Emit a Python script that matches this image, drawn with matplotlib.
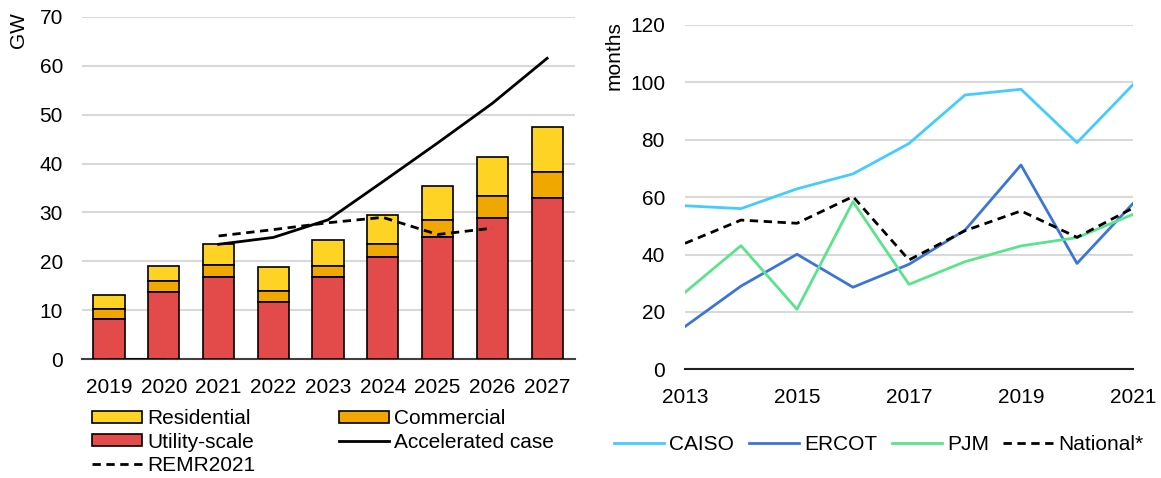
import matplotlib.pyplot as plt
import numpy as np

plt.rcParams.update({
    "font.family": ["Liberation Sans", "DejaVu Sans"],
    "font.size": 15,
    "xtick.labelsize": 15,
    "ytick.labelsize": 15,
    "legend.fontsize": 15,
})

# Left panel data (GW)
years = ['2019', '2020', '2021', '2022', '2023', '2024', '2025', '2026', '2027']
utility = [8.2, 13.8, 16.9, 11.8, 16.9, 20.9, 24.9, 28.9, 32.9]
commercial = [2.1, 2.1, 2.4, 2.1, 2.2, 2.7, 3.6, 4.5, 5.4]
residential = [2.8, 3.2, 4.2, 5.0, 5.3, 5.9, 7.0, 8.0, 9.1]
accelerated = [0, 0, 23.5, 24.9, 28.5, 36.3, 44.2, 52.3, 61.5]
remr2021 = [np.nan, np.nan, 25.2, 26.5, 27.9, 29.0, 25.5, 26.8, np.nan]

# Right panel data (months)
reg_years = [2013, 2014, 2015, 2016, 2017, 2018, 2019, 2020, 2021]
caiso = [57.0, 56.0, 62.9, 68.1, 78.7, 95.6, 97.6, 79.0, 99.2]
ercot = [14.9, 29.0, 40.1, 28.6, 36.6, 48.5, 71.2, 36.9, 57.8]
pjm = [26.8, 43.1, 20.9, 58.4, 29.6, 37.5, 43.0, 45.9, 54.0]
national = [43.9, 52.0, 50.9, 60.2, 38.1, 48.3, 55.2, 46.0, 56.2]

W, H = 1161, 478
fig = plt.figure(figsize=(W / 100, H / 100), dpi=100)
ax1 = fig.add_axes([81.7 / W, 1 - 359.3 / H, 492.8 / W, 342.6 / H])
ax2 = fig.add_axes([685 / W, 1 - 369.3 / H, 448 / W, 344.3 / H])

grid_c = '#d9d9d9'

# ---- left panel
x = np.arange(len(years))
util = np.array(utility)
comm = np.array(commercial)
res = np.array(residential)
w = 0.57
ax1.bar(x, res, w, bottom=util + comm, color='#ffd324', edgecolor='black', linewidth=1.2,
        label='Residential', zorder=3)
ax1.bar(x, comm, w, bottom=util, color='#f0a800', edgecolor='black', linewidth=1.2,
        label='Commercial', zorder=3)
ax1.bar(x, util, w, color='#e34a4a', edgecolor='black', linewidth=1.2,
        label='Utility-scale', zorder=3)
acc = np.array(accelerated)
ax1.plot(x[:2], acc[:2], color='black', linewidth=2, zorder=4)
ax1.plot(x[2:], acc[2:], color='black', linewidth=2, zorder=4, label='Accelerated case')
ax1.plot(x, remr2021, color='black', linewidth=2, linestyle=(0, (3, 2)), zorder=4,
         label='REMR2021')

ax1.set_xlim(-0.5, len(years) - 0.5)
ax1.set_ylim(0, 70)
ax1.set_yticks(range(0, 71, 10))
ax1.set_xticks(x)
ax1.set_xticklabels(years)
ax1.yaxis.grid(True, color=grid_c, linewidth=1.5, zorder=0)
ax1.set_axisbelow(True)
for s in ['top', 'right', 'left']:
    ax1.spines[s].set_visible(False)
ax1.spines['bottom'].set_color('#404040')
ax1.spines['bottom'].set_linewidth(1.5)
ax1.tick_params(axis='x', length=0, pad=13.5)
ax1.tick_params(axis='y', length=0, pad=13.5)
fig.text(18.5 / W, 1 - 30 / H, 'GW', rotation=90, ha='center', va='center')

# column-major fill so rows read: Residential | Commercial, Utility-scale | Accelerated, REMR2021
h, l = ax1.get_legend_handles_labels()
hd = dict(zip(l, h))
order = ['Residential', 'Utility-scale', 'REMR2021', 'Commercial', 'Accelerated case']
fig.legend([hd[k] for k in order], order, ncol=2, loc='center left',
           bbox_to_anchor=(92 / W, 1 - 442 / H), frameon=False,
           handlelength=2.4, handleheight=0.5, handletextpad=0.25,
           labelspacing=0.2, columnspacing=4.0, borderpad=0, borderaxespad=0)

# ---- right panel
ax2.plot(reg_years, caiso, color='#44ccff', linewidth=2, label='CAISO')
ax2.plot(reg_years, ercot, color='#3b76d6', linewidth=2, label='ERCOT')
ax2.plot(reg_years, pjm, color='#5be38e', linewidth=2, label='PJM')
ax2.plot(reg_years, national, color='black', linewidth=2, linestyle=(0, (3, 2)),
         label='National*')
ax2.set_xlim(2013, 2021)
ax2.set_ylim(0, 120)
ax2.set_yticks(range(0, 121, 20))
ax2.set_xticks([2013, 2015, 2017, 2019, 2021])
ax2.yaxis.grid(True, color=grid_c, linewidth=1.5, zorder=0)
ax2.set_axisbelow(True)
for s in ['top', 'right', 'left']:
    ax2.spines[s].set_visible(False)
ax2.spines['bottom'].set_color('#202020')
ax2.spines['bottom'].set_linewidth(1.5)
ax2.tick_params(axis='x', length=0, pad=13.5)
ax2.tick_params(axis='y', length=0, pad=14.4)
fig.text(614 / W, 1 - 56 / H, 'months', rotation=90, ha='center', va='center')

fig.legend(ncol=4, handles=ax2.get_lines(), loc='center left',
           bbox_to_anchor=(614 / W, 1 - 445 / H), frameon=False,
           handlelength=2.4, handletextpad=0.25, columnspacing=0.7, borderpad=0,
           borderaxespad=0)

fig.savefig('out.png', dpi=100)
